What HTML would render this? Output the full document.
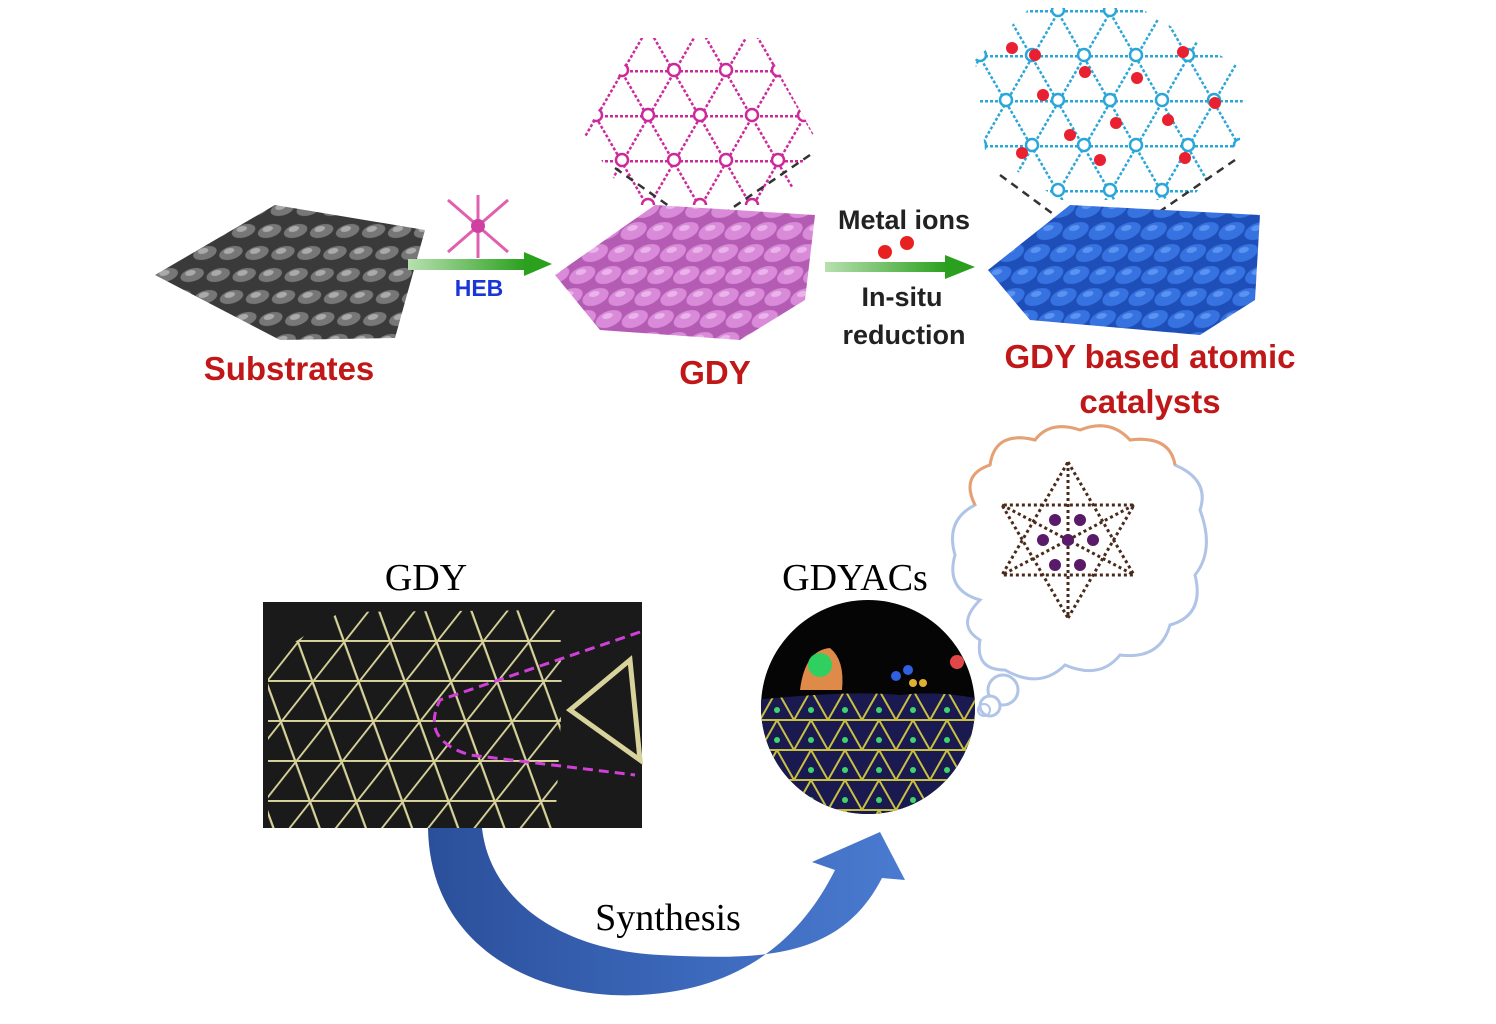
<!DOCTYPE html>
<html><head><meta charset="utf-8"><style>
html,body{margin:0;padding:0;background:#fff;}
svg{display:block;}
.sb{font-family:"Liberation Sans",sans-serif;font-weight:bold;}
.sr{font-family:"Liberation Serif",serif;}
</style></head><body>
<svg width="1496" height="1024" viewBox="0 0 1496 1024" xmlns="http://www.w3.org/2000/svg">
<defs>
<!-- triangular lattice line sets, spacing 45 -->
<pattern id="pH" width="200" height="45" patternUnits="userSpaceOnUse"><line x1="0" y1="0" x2="200" y2="0" stroke="#cc2a9a" stroke-width="5" stroke-dasharray="3 2"/></pattern>
<pattern id="pA" width="200" height="45" patternUnits="userSpaceOnUse" patternTransform="rotate(60)"><line x1="0" y1="0" x2="200" y2="0" stroke="#cc2a9a" stroke-width="5" stroke-dasharray="3 2"/></pattern>
<pattern id="pB" width="200" height="45" patternUnits="userSpaceOnUse" patternTransform="rotate(-60)"><line x1="0" y1="0" x2="200" y2="0" stroke="#cc2a9a" stroke-width="5" stroke-dasharray="3 2"/></pattern>
<pattern id="pN" width="52" height="90" patternUnits="userSpaceOnUse"><g fill="#fff" stroke="#cc2a9a" stroke-width="2.5"><circle cx="0" cy="0" r="6"/><circle cx="52" cy="0" r="6"/><circle cx="26" cy="45" r="6"/><circle cx="0" cy="90" r="6"/><circle cx="52" cy="90" r="6"/></g></pattern>

<pattern id="cH" width="200" height="45" patternUnits="userSpaceOnUse"><line x1="0" y1="0" x2="200" y2="0" stroke="#2aa6d8" stroke-width="5" stroke-dasharray="3 2"/></pattern>
<pattern id="cA" width="200" height="45" patternUnits="userSpaceOnUse" patternTransform="rotate(60)"><line x1="0" y1="0" x2="200" y2="0" stroke="#2aa6d8" stroke-width="5" stroke-dasharray="3 2"/></pattern>
<pattern id="cB" width="200" height="45" patternUnits="userSpaceOnUse" patternTransform="rotate(-60)"><line x1="0" y1="0" x2="200" y2="0" stroke="#2aa6d8" stroke-width="5" stroke-dasharray="3 2"/></pattern>
<pattern id="cN" width="52" height="90" patternUnits="userSpaceOnUse"><g fill="#fff" stroke="#2aa6d8" stroke-width="2.5"><circle cx="0" cy="0" r="6"/><circle cx="52" cy="0" r="6"/><circle cx="26" cy="45" r="6"/><circle cx="0" cy="90" r="6"/><circle cx="52" cy="90" r="6"/></g></pattern>

<pattern id="yH" width="200" height="40" patternUnits="userSpaceOnUse"><line x1="0" y1="0" x2="200" y2="0" stroke="#d8d39a" stroke-width="4"/></pattern>
<pattern id="yA" width="200" height="40" patternUnits="userSpaceOnUse" patternTransform="rotate(60)"><line x1="0" y1="0" x2="200" y2="0" stroke="#d8d39a" stroke-width="4"/></pattern>
<pattern id="yB" width="200" height="40" patternUnits="userSpaceOnUse" patternTransform="rotate(-60)"><line x1="0" y1="0" x2="200" y2="0" stroke="#d8d39a" stroke-width="4"/></pattern>

<pattern id="circL" width="34" height="30" patternUnits="userSpaceOnUse" x="760" y="690">
<g stroke="#c8c040" stroke-width="2" fill="none">
<path d="M0 0H34M0 30H34M0 30L17 0L34 30M-17 0L0 30M17 0L34 -30"/>
</g>
<circle cx="17" cy="20" r="3" fill="#3fd56a"/>
</pattern>
<pattern id="grayM" width="26" height="22" patternUnits="userSpaceOnUse" patternTransform="skewX(-30)">
<rect width="26" height="22" fill="#3a3a3a"/>
<ellipse cx="13" cy="11" rx="11" ry="7" fill="#777"/>
<ellipse cx="10" cy="9" rx="5" ry="3" fill="#aaa"/>
</pattern>
<pattern id="pinkM" width="26" height="22" patternUnits="userSpaceOnUse" patternTransform="skewX(-30)">
<rect width="26" height="22" fill="#b45cb4"/>
<ellipse cx="13" cy="11" rx="12" ry="9" fill="#d98ad8"/>
<ellipse cx="10" cy="8" rx="5" ry="3" fill="#eab4ea"/>
</pattern>
<pattern id="blueM" width="26" height="22" patternUnits="userSpaceOnUse" patternTransform="skewX(-30)">
<rect width="26" height="22" fill="#1e4fb8"/>
<ellipse cx="13" cy="11" rx="12" ry="9" fill="#3672e0"/>
<ellipse cx="10" cy="8" rx="5" ry="3" fill="#5b93f0"/>
</pattern>
<linearGradient id="grn" x1="0" x2="1"><stop offset="0" stop-color="#b8e0b0"/><stop offset="1" stop-color="#2aa01e"/></linearGradient>
<linearGradient id="blu" x1="0" x2="1"><stop offset="0" stop-color="#2b4f9a"/><stop offset="0.5" stop-color="#3a66b8"/><stop offset="1" stop-color="#4a7bd0"/></linearGradient>
<clipPath id="circ"><circle cx="868" cy="707" r="107"/></clipPath>
<clipPath id="pinkClip"><polygon points="640,38 760,38 814,135 785,205 632,205 584,135"/></clipPath>
<clipPath id="cyanClip"><polygon points="1030,8 1140,8 1245,70 1240,140 1190,200 1060,200 985,150 975,60"/></clipPath>
<clipPath id="yelClip"><polygon points="268,660 340,612 560,610 562,700 555,828 268,828"/></clipPath>
</defs>

<!-- substrates mesh -->
<polygon points="155,275 275,205 425,230 395,338 280,340" fill="url(#grayM)"/>
<text x="289" y="380" class="sb" font-size="33" fill="#c01818" text-anchor="middle">Substrates</text>

<!-- arrow 1 -->
<rect x="408" y="259" width="118" height="11" fill="url(#grn)"/>
<polygon points="524,252 552,264 524,276" fill="#2aa01e"/>
<g stroke="#e060b0" stroke-width="3">
<line x1="448" y1="200" x2="508" y2="252"/><line x1="508" y1="200" x2="448" y2="252"/><line x1="478" y1="195" x2="478" y2="258"/>
</g>
<circle cx="478" cy="226" r="7" fill="#d040a0"/>
<text x="479" y="296" class="sb" font-size="23" fill="#1a35d8" text-anchor="middle">HEB</text>

<!-- GDY pink lattice -->
<g clip-path="url(#pinkClip)">
<g transform="translate(700,115)">
<rect x="-200" y="-200" width="400" height="400" fill="url(#pH)"/>
<rect x="-200" y="-200" width="400" height="400" fill="url(#pA)"/>
<rect x="-200" y="-200" width="400" height="400" fill="url(#pB)"/>
<rect x="-200" y="-200" width="400" height="400" fill="url(#pN)"/>
</g></g>
<g stroke="#333" stroke-width="2.5" stroke-dasharray="8 6">
<line x1="615" y1="168" x2="710" y2="235"/><line x1="810" y1="155" x2="700" y2="230"/>
</g>
<polygon points="555,275 655,205 815,215 805,300 740,340 600,330" fill="url(#pinkM)"/>
<text x="715" y="384" class="sb" font-size="33" fill="#c01818" text-anchor="middle">GDY</text>

<!-- arrow 2 -->
<text x="904" y="229" class="sb" font-size="27" fill="#222" text-anchor="middle">Metal ions</text>
<circle cx="885" cy="252" r="7" fill="#e82020"/><circle cx="907" cy="243" r="7" fill="#e82020"/>
<rect x="825" y="262" width="122" height="10" fill="url(#grn)"/>
<polygon points="945,255 975,267 945,279" fill="#2aa01e"/>
<text x="902" y="306" class="sb" font-size="27" fill="#222" text-anchor="middle">In-situ</text>
<text x="904" y="344" class="sb" font-size="27" fill="#222" text-anchor="middle">reduction</text>

<!-- catalyst lattice -->
<g clip-path="url(#cyanClip)">
<g transform="translate(1110,100)">
<rect x="-200" y="-200" width="400" height="400" fill="url(#cH)"/>
<rect x="-200" y="-200" width="400" height="400" fill="url(#cA)"/>
<rect x="-200" y="-200" width="400" height="400" fill="url(#cB)"/>
<rect x="-200" y="-200" width="400" height="400" fill="url(#cN)"/>
</g></g>
<g fill="#e82030">
<circle cx="1012" cy="48" r="6"/><circle cx="1035" cy="55" r="6"/><circle cx="1085" cy="72" r="6"/><circle cx="1183" cy="52" r="6"/><circle cx="1137" cy="78" r="6"/><circle cx="1043" cy="95" r="6"/><circle cx="1215" cy="103" r="6"/><circle cx="1168" cy="120" r="6"/><circle cx="1116" cy="123" r="6"/><circle cx="1070" cy="135" r="6"/><circle cx="1022" cy="153" r="6"/><circle cx="1100" cy="160" r="6"/><circle cx="1185" cy="158" r="6"/>
</g>
<g stroke="#333" stroke-width="2.5" stroke-dasharray="8 6">
<line x1="1000" y1="175" x2="1075" y2="230"/><line x1="1235" y1="160" x2="1140" y2="225"/>
</g>
<polygon points="988,270 1070,205 1260,215 1255,300 1200,335 1030,320" fill="url(#blueM)"/>
<text x="1150" y="368" class="sb" font-size="33" fill="#c01818" text-anchor="middle">GDY based atomic</text>
<text x="1150" y="413" class="sb" font-size="33" fill="#c01818" text-anchor="middle">catalysts</text>

<!-- bottom GDY -->
<text x="426" y="590" class="sr" font-size="38" fill="#000" text-anchor="middle">GDY</text>
<rect x="263" y="602" width="379" height="226" fill="#1a1a1a"/>
<g clip-path="url(#yelClip)">
<g transform="translate(420,720) skewX(-12)">
<rect x="-300" y="-200" width="600" height="400" fill="url(#yH)"/>
<rect x="-300" y="-200" width="600" height="400" fill="url(#yA)"/>
<rect x="-300" y="-200" width="600" height="400" fill="url(#yB)"/>
</g></g>
<path d="M640 632 L440 700 Q420 740 470 755 L635 775" stroke="#d040d8" stroke-width="3" stroke-dasharray="10 6" fill="none"/>
<polygon points="570,710 630,660 640,760" fill="none" stroke="#d8d39a" stroke-width="5"/>

<!-- GDYACs -->
<text x="855" y="590" class="sr" font-size="38" fill="#000" text-anchor="middle">GDYACs</text>
<circle cx="868" cy="707" r="107" fill="#050505"/>
<g clip-path="url(#circ)">
<path d="M755 700 Q850 690 900 695 Q940 690 985 700 L985 820 L755 820Z" fill="#1a1a50"/>
<path d="M755 700 Q850 690 900 695 Q940 690 985 700 L985 820 L755 820Z" fill="url(#circL)"/>
<path d="M800 690 Q805 650 830 648 Q845 660 842 690Z" fill="#e08a4a"/>
<circle cx="820" cy="665" r="12" fill="#30d060"/>
<circle cx="896" cy="676" r="5" fill="#3060e0"/><circle cx="908" cy="670" r="5" fill="#3060e0"/>
<circle cx="913" cy="683" r="4" fill="#e0b030"/><circle cx="923" cy="683" r="4" fill="#e0b030"/>
<circle cx="957" cy="662" r="7" fill="#e04848"/>
</g>

<!-- cloud -->
<path d="M980 600 Q945 590 955 555 Q945 520 975 505 Q960 475 990 465 Q995 430 1035 440 Q1050 420 1080 430 Q1110 418 1130 440 Q1170 435 1175 465 Q1210 480 1200 510 Q1215 550 1195 575 Q1205 615 1170 625 Q1160 660 1120 655 Q1100 680 1065 665 Q1040 690 1005 670 Q975 670 980 640 Q955 625 980 600Z" fill="#fff" stroke="#b0c4e8" stroke-width="3"/>
<path d="M975 505 Q960 475 990 465 Q995 430 1035 440 Q1050 420 1080 430 Q1110 418 1130 440 Q1170 435 1175 465" fill="none" stroke="#e8a070" stroke-width="3"/>
<circle cx="1003" cy="690" r="15" fill="#fff" stroke="#b0c4e8" stroke-width="3"/>
<circle cx="990" cy="706" r="10" fill="#fff" stroke="#b0c4e8" stroke-width="3"/>
<circle cx="984" cy="710" r="6" fill="none" stroke="#b0c4e8" stroke-width="2"/>
<g stroke="#4a2a1a" stroke-width="3" stroke-dasharray="3 3" fill="none">
<polygon points="1068,462 1134,575 1002,575"/>
<polygon points="1068,618 1134,505 1002,505"/>
<line x1="1002" y1="505" x2="1134" y2="575"/><line x1="1134" y1="505" x2="1002" y2="575"/><line x1="1068" y1="462" x2="1068" y2="618"/>
</g>
<g fill="#5a1a6a">
<circle cx="1068" cy="540" r="6"/>
<circle cx="1055" cy="520" r="6"/><circle cx="1080" cy="520" r="6"/><circle cx="1043" cy="540" r="6"/><circle cx="1093" cy="540" r="6"/><circle cx="1055" cy="565" r="6"/><circle cx="1080" cy="565" r="6"/>
</g>

<!-- blue synthesis arrow -->
<path d="M428 828 C430 950 540 1000 640 995 C740 990 800 940 835 870 L812 862 L880 832 L905 880 L882 878 C840 960 760 960 660 955 C560 950 490 900 482 828Z" fill="url(#blu)"/>
<text x="668" y="930" class="sr" font-size="38" fill="#000" text-anchor="middle">Synthesis</text>
</svg>
</body></html>
